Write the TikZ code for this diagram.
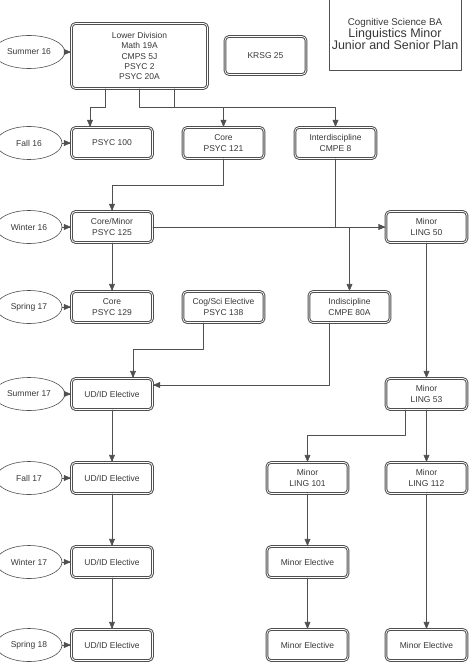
\documentclass[tikz,border=0pt]{standalone}
\usepackage{fontspec}
\setmainfont{Liberation Sans}
\usetikzlibrary{arrows,shapes.geometric}
\definecolor{linegray}{RGB}{80,80,80}
\definecolor{textgray}{RGB}{55,55,55}
\tikzset{
  course/.style={draw=linegray, double=white, double distance=0.7pt, line width=1pt,
    rounded corners=4pt, minimum width=81pt, minimum height=31pt, align=center,
    text=textgray, font=\fontsize{8.5}{10.3}\selectfont},
  quarter/.style={ellipse, draw=linegray, line width=0.6pt, minimum width=66pt,
    minimum height=33pt, text=textgray, font=\fontsize{8.5}{10.3}\selectfont},
  flow/.style={->, draw=linegray, line width=0.6pt}
}

\begin{document}
\begin{tikzpicture}[line cap=round,line join=round,>=triangle 45,x=1pt,y=-1pt]
    \useasboundingbox (0,0) rectangle (474,663);
    % title
    \node [draw=linegray, line width=0.6pt, minimum width=132pt, minimum height=72pt,
      align=center, text=textgray, inner sep=0pt] (title) at (395,34.5)
      {{\fontsize{9.8}{13.5}\selectfont Cognitive Science BA}\\
       {\fontsize{12.5}{14}\selectfont Linguistics Minor}\\
       {\fontsize{12.5}{14}\selectfont Junior and Senior Plan}};
    % quarters
    \node [quarter] (su16) at (29,52) {Summer 16};
    \node [quarter] (fa16) at (29,143) {Fall 16};
    \node [quarter] (wi16) at (29,227) {Winter 16};
    \node [quarter] (sp17) at (29,307) {Spring 17};
    \node [quarter] (su17) at (29,394) {Summer 17};
    \node [quarter] (fa17) at (29,478) {Fall 17};
    \node [quarter] (wi17) at (29,562) {Winter 17};
    \node [quarter] (sp18) at (29,645) {Spring 18};
    % courses
    \node [course, minimum width=136pt, minimum height=65pt] (lower) at (139.5,56)
      {Lower Division\\Math 19A\\CMPS 5J\\PSYC 2\\PSYC 20A};
    \node [course, minimum height=38pt] (krsg) at (265.5,55.5) {KRSG 25};
    \node [course] (psyc100) at (112,143) {PSYC 100};
    \node [course] (psyc121) at (223.5,143) {Core\\PSYC 121};
    \node [course] (cmpe8) at (335.5,143) {Interdiscipline\\CMPE 8};
    \node [course] (psyc125) at (112,227) {Core/Minor\\PSYC 125};
    \node [course] (ling50) at (426.5,227) {Minor\\LING 50};
    \node [course] (psyc129) at (112,307) {Core\\PSYC 129};
    \node [course] (psyc138) at (223.5,307) {Cog/Sci Elective\\PSYC 138};
    \node [course] (cmpe80) at (349.5,307) {Indiscipline\\CMPE 80A};
    \node [course] (udid1) at (112,394) {UD/ID Elective};
    \node [course] (ling53) at (426.5,394) {Minor\\LING 53};
    \node [course] (udid2) at (112,478) {UD/ID Elective};
    \node [course] (ling101) at (307.5,478) {Minor\\LING 101};
    \node [course] (ling112) at (426.5,478) {Minor\\LING 112};
    \node [course] (udid3) at (112,562) {UD/ID Elective};
    \node [course] (minel1) at (307.5,562) {Minor Elective};
    \node [course] (udid4) at (112,645) {UD/ID Elective};
    \node [course] (minel2) at (307.5,645) {Minor Elective};
    \node [course] (minel3) at (426.5,645) {Minor Elective};
    % quarter arrows
    \foreach \q/\c in {su16/lower,fa16/psyc100,wi16/psyc125,sp17/psyc129,su17/udid1,fa17/udid2,wi17/udid3,sp18/udid4}
    \draw[flow] (\q.east) -- (\q.east -| \c.west);
    % prerequisites
    \draw[flow] ([xshift=-34.5pt]lower.south) -- ++(0,18) -| ([xshift=-22pt]psyc100.north);
    \draw[flow] (lower.south) -- ++(0,18) -| (psyc121.north);
    \draw[flow] ([xshift=34.5pt]lower.south) -- ++(0,18) -| (cmpe8.north);
    \draw[flow] (psyc121.south) -- ++(0,26) -| (psyc125.north);
    \draw[flow] (psyc125.east) -- (ling50.west);
    \draw[flow] (cmpe8.south) -- (cmpe8.south |- psyc125.east) -| (cmpe80.north);
    \draw[flow] (psyc125) -- (psyc129);
    \draw[flow] ([xshift=-20.5pt]psyc138.south) -- ++(0,26) -| ([xshift=21pt]udid1.north);
    \draw[flow] ([xshift=-20.5pt]cmpe80.south) |- ([yshift=9pt]udid1.east);
    \draw[flow] (ling50) -- (ling53);
    \draw[flow] ([xshift=-21.5pt]ling53.south) -- ++(0,25) -| (ling101.north);
    \draw[flow] (ling53) -- (ling112);
    \draw[flow] (ling112) -- (minel3);
    \draw[flow] (udid1) -- (udid2);
    \draw[flow] (udid2) -- (udid3);
    \draw[flow] (udid3) -- (udid4);
    \draw[flow] (ling101) -- (minel1);
    \draw[flow] (minel1) -- (minel2);
\end{tikzpicture}
\end{document}
